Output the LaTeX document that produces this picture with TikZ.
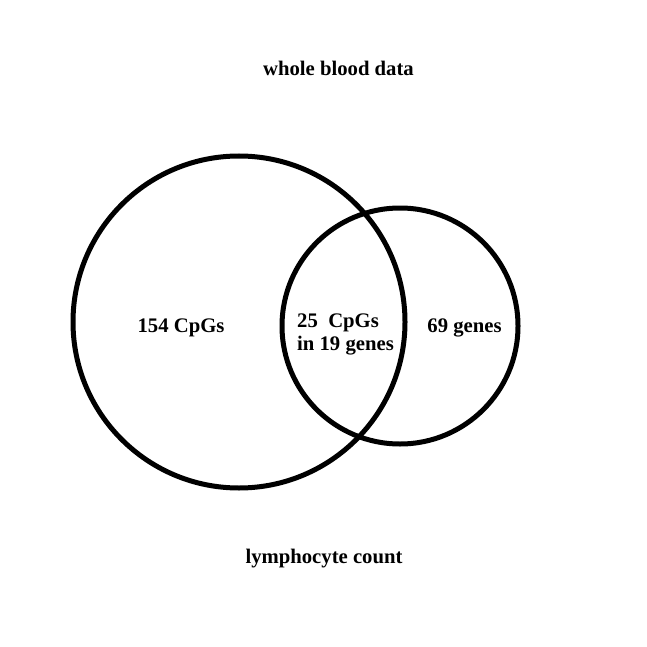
\documentclass[tikz,border=0pt]{standalone}
\usepackage{fontspec}
\setmainfont{Liberation Serif}
\usepackage{xcolor}

\begin{document}
\begin{tikzpicture}[x=1pt,y=-1pt]
        \useasboundingbox[fill=white] (0,0) rectangle (646,647);
        \tikzset{lbl/.style={font=\fontsize{20.7}{23}\selectfont\bfseries, inner sep=0pt, anchor=base}}

        % Left circle
        \node[draw, circle, line width=5pt, minimum size=332pt, inner sep=0pt] (blood) at (239,322) {};
        % Right circle
        \node[draw, circle, line width=5pt, minimum size=236pt, inner sep=0pt] (lymph) at (400,326) {};

        % Titles
        \node[lbl] (bloodtitle) at (338.5,76) {whole blood data};
        \node[lbl] (lymphtitle) at (324,563) {lymphocyte count};

        % Counts
        \node[lbl] (leftonly) at (181,332) {154 CpGs};
        \node[lbl, anchor=base west, align=left] (overlap) at (297,350) {25\ \ CpGs\\in 19 genes};
        \node[lbl] (rightonly) at (464.5,332) {69 genes};
    \end{tikzpicture}
\end{document}
